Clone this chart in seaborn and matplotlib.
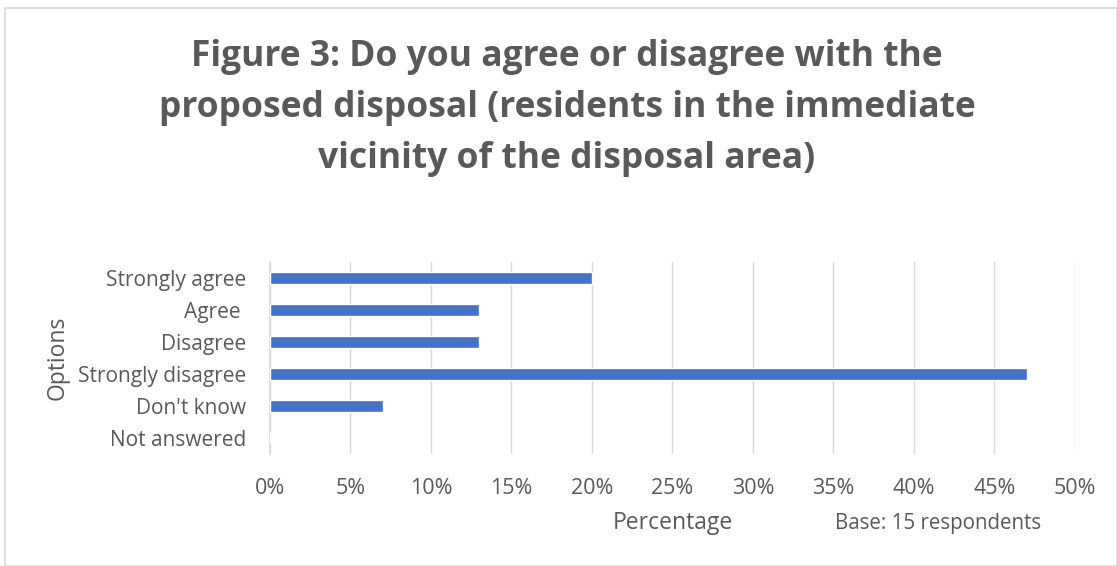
import matplotlib
matplotlib.use("Agg")
import matplotlib.pyplot as plt
import seaborn as sns
import pandas as pd
from matplotlib.ticker import PercentFormatter
from matplotlib.patches import Rectangle

categories = ["Strongly agree", "Agree ", "Disagree", "Strongly disagree", "Don't know", "Not answered"]
percentages = [20, 13, 13, 47, 7, 0]
xticks = [0, 5, 10, 15, 20, 25, 30, 35, 40, 45, 50]

df = pd.DataFrame({"Options": categories, "Percentage": percentages})

sns.set_theme(style="white")
plt.rcParams['font.family'] = ['Open Sans', 'DejaVu Sans']
TXT = "#595959"

fig = plt.figure(figsize=(11.17, 5.66), dpi=100)
ax = fig.add_axes([0.2417, 0.198, 0.9624 - 0.2417, 0.537 - 0.198])

sns.barplot(data=df, x="Percentage", y="Options", orient="h", color="#4472C4",
            width=0.375, saturation=1, ax=ax, zorder=3)

ax.set_xlim(0, 50)
ax.set_xticks(xticks)
ax.xaxis.set_major_formatter(PercentFormatter(decimals=0))
ax.grid(axis="x", color="#d9d9d9", linewidth=1, zorder=0)
ax.grid(axis="y", visible=False)
for s in ["top", "right", "bottom"]:
    ax.spines[s].set_visible(False)
ax.spines["left"].set_color("#d9d9d9")
ax.spines["left"].set_linewidth(1.2)
ax.tick_params(axis="x", length=0, labelsize=15.5, labelcolor=TXT, pad=17)
ax.tick_params(axis="y", length=0, labelsize=15, labelcolor=TXT, pad=17)
ax.set_xlabel("Percentage", fontsize=16.5, color=TXT)
ax.set_ylabel("Options", fontsize=16.5, color=TXT)
ax.xaxis.set_label_coords((673 - 270) / (1075 - 270), -(523 - 454) / 192)
ax.xaxis.label.set_va("center")
ax.yaxis.set_label_coords(-(270 - 58) / (1075 - 270), 0.5)
ax.yaxis.label.set_va("center")

fig.text(938 / 1117, 1 - 523 / 566, "Base: 15 respondents", ha="center", va="center",
         fontsize=14.8, color=TXT)

fig.text(567 / 1117, 1 - 108 / 566,
         "Figure 3: Do you agree or disagree with the\nproposed disposal (residents in the immediate\nvicinity of the disposal area)",
         ha="center", va="center", fontsize=25.5, fontweight="bold", color=TXT, linespacing=1.55)

fig.patches.append(Rectangle((5 / 1117, 0), (1117 - 5) / 1117, 1 - 8 / 566, transform=fig.transFigure,
                             fill=False, edgecolor="#d9d9d9", linewidth=1.2))

fig.savefig("out.png", dpi=100)
